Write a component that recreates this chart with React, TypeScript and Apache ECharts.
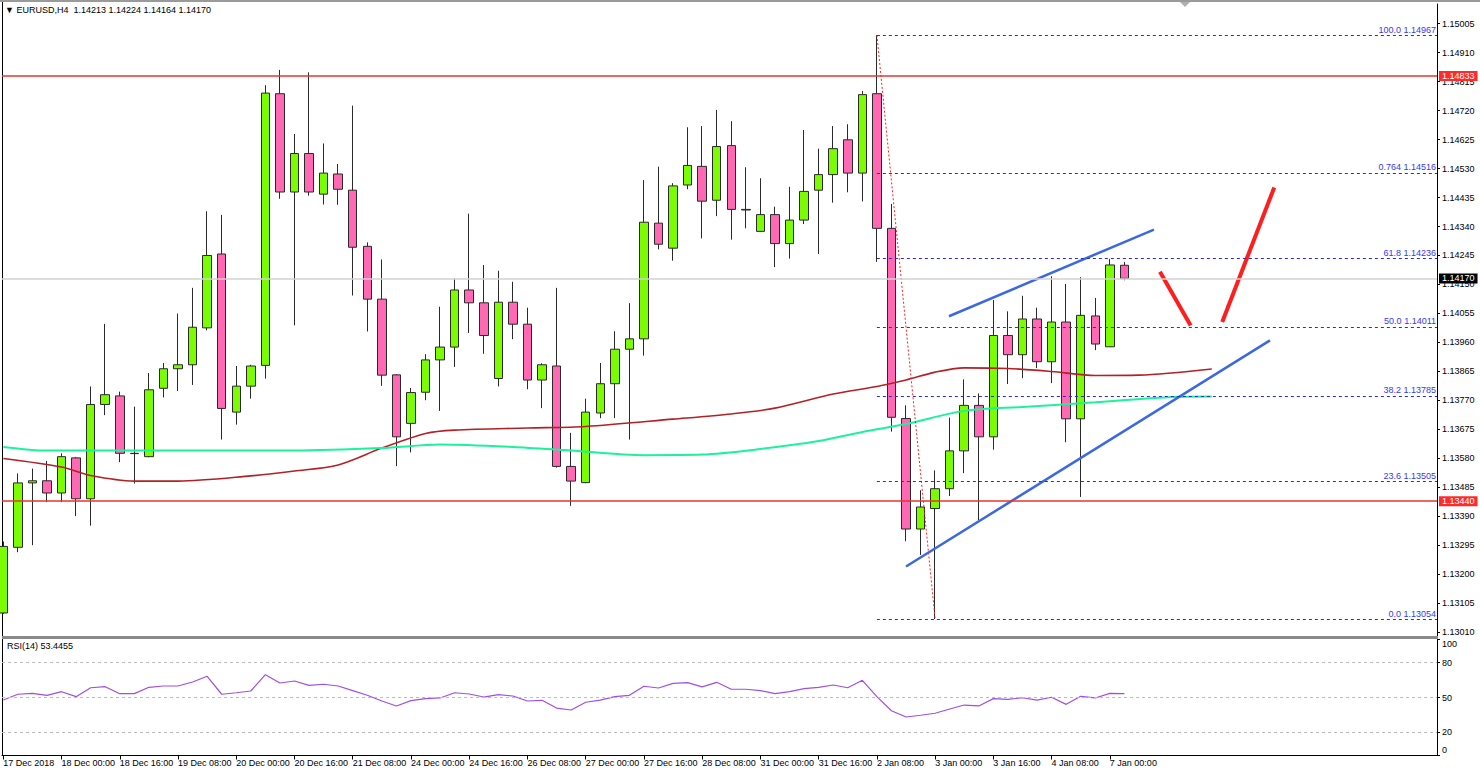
import React, { useEffect, useRef } from 'react';
import * as echarts from 'echarts';

const FONT = '"Liberation Sans", Arial, sans-serif';

// ---- data ----
const xLabels = ['17 Dec 2018', '18 Dec 00:00', '18 Dec 16:00', '19 Dec 08:00', '20 Dec 00:00', '20 Dec 16:00', '21 Dec 08:00', '24 Dec 00:00', '24 Dec 16:00', '26 Dec 08:00', '27 Dec 00:00', '27 Dec 16:00', '28 Dec 08:00', '31 Dec 00:00', '31 Dec 16:00', '2 Jan 08:00', '3 Jan 00:00', '3 Jan 16:00', '4 Jan 08:00', '7 Jan 00:00'];
const barsPerLabel = 4;

const opens = [1.13074, 1.13289, 1.13500, 1.13507, 1.13467, 1.13582, 1.13448, 1.13757, 1.13785, 1.13597, 1.13586, 1.13810, 1.13874, 1.13887, 1.14008, 1.14250, 1.13732, 1.13817, 1.13885, 1.14775, 1.14453, 1.14579, 1.14446, 1.14512, 1.14459, 1.14275, 1.14102, 1.13854, 1.13695, 1.13797, 1.13903, 1.13945, 1.14132, 1.14090, 1.13842, 1.14092, 1.14020, 1.13837, 1.13883, 1.13554, 1.13501, 1.13729, 1.13825, 1.13938, 1.13972, 1.14351, 1.14269, 1.14476, 1.14537, 1.14426, 1.14605, 1.14396, 1.14324, 1.14379, 1.14284, 1.14361, 1.14459, 1.14510, 1.14624, 1.14515, 1.14775, 1.14334, 1.13711, 1.13349, 1.13416, 1.13481, 1.13605, 1.13754, 1.13651, 1.13983, 1.13920, 1.14037, 1.13897, 1.14027, 1.13710, 1.14047, 1.13946, 1.14213];
const closes = [1.13292, 1.13500, 1.13507, 1.13467, 1.13586, 1.13448, 1.13757, 1.13789, 1.13597, 1.13596, 1.13805, 1.13874, 1.13887, 1.14010, 1.14245, 1.13744, 1.13817, 1.13883, 1.14777, 1.14453, 1.14579, 1.14453, 1.14515, 1.14462, 1.14272, 1.14102, 1.13853, 1.13651, 1.13796, 1.13903, 1.13945, 1.14132, 1.14090, 1.13983, 1.14092, 1.14020, 1.13837, 1.13887, 1.13554, 1.13506, 1.13732, 1.13825, 1.13938, 1.13972, 1.14354, 1.14282, 1.14473, 1.14540, 1.14423, 1.14602, 1.14396, 1.14394, 1.14379, 1.14284, 1.14361, 1.14455, 1.14510, 1.14595, 1.14515, 1.14772, 1.14334, 1.13715, 1.13349, 1.13421, 1.13481, 1.13605, 1.13754, 1.13651, 1.13983, 1.13920, 1.14037, 1.13897, 1.14027, 1.13710, 1.14049, 1.13955, 1.14214, 1.14170];
const lows = [1.13071, 1.13273, 1.13296, 1.13437, 1.13437, 1.13391, 1.13360, 1.13722, 1.13568, 1.13498, 1.13584, 1.13780, 1.13801, 1.13821, 1.14000, 1.13642, 1.13691, 1.13776, 1.13842, 1.14431, 1.14016, 1.14441, 1.14412, 1.14411, 1.14114, 1.13996, 1.13818, 1.13555, 1.13600, 1.13771, 1.13736, 1.13880, 1.13991, 1.13923, 1.13816, 1.13971, 1.13807, 1.13745, 1.13550, 1.13425, 1.13499, 1.13712, 1.13712, 1.13642, 1.13917, 1.14265, 1.14228, 1.14462, 1.14301, 1.14374, 1.14297, 1.14334, 1.14322, 1.14207, 1.14235, 1.14348, 1.14250, 1.14418, 1.14452, 1.14422, 1.14224, 1.13668, 1.13309, 1.13264, 1.13054, 1.13457, 1.13532, 1.13378, 1.13609, 1.13824, 1.13843, 1.13876, 1.13827, 1.13633, 1.13454, 1.13935, 1.13945, 1.14164];
const highs = [1.13308, 1.13531, 1.13547, 1.13572, 1.13597, 1.13585, 1.13816, 1.14021, 1.13799, 1.13750, 1.13860, 1.13893, 1.14055, 1.14139, 1.14390, 1.14378, 1.13883, 1.13887, 1.14803, 1.14853, 1.14643, 1.14845, 1.14612, 1.14545, 1.14736, 1.14288, 1.14232, 1.13856, 1.13811, 1.13922, 1.14077, 1.14170, 1.14382, 1.14214, 1.14195, 1.14159, 1.14074, 1.13892, 1.14139, 1.13664, 1.13776, 1.13893, 1.13997, 1.14089, 1.14492, 1.14536, 1.14482, 1.14665, 1.14669, 1.14722, 1.14685, 1.14534, 1.14498, 1.14405, 1.14470, 1.14656, 1.14595, 1.14669, 1.14675, 1.14784, 1.14967, 1.14414, 1.13754, 1.13476, 1.13541, 1.13714, 1.13839, 1.13793, 1.14099, 1.14062, 1.14113, 1.14074, 1.14177, 1.14152, 1.14174, 1.14106, 1.14234, 1.14224];

const priceTicks = [1.15005, 1.14910, 1.14815, 1.14720, 1.14625, 1.14530, 1.14435, 1.14340, 1.14245, 1.14150, 1.14055, 1.13960, 1.13865, 1.13770, 1.13675, 1.13580, 1.13485, 1.13390, 1.13295, 1.13200, 1.13105, 1.13010];

const maRedIdx = [0, 4, 6, 9, 12, 17, 20, 23, 26, 29, 31, 36, 40, 46, 50, 53, 57, 60, 62, 64, 66, 69, 72, 75, 78, 83];
const maRedVal = [1.13580, 1.13552, 1.13524, 1.13506, 1.13506, 1.13523, 1.13539, 1.13559, 1.13614, 1.13662, 1.13673, 1.13680, 1.13685, 1.13709, 1.13726, 1.13745, 1.13791, 1.13816, 1.13837, 1.13863, 1.13877, 1.13875, 1.13865, 1.13852, 1.13853, 1.13873];
const maGreenIdx = [0, 3, 11, 20, 26, 30, 35, 39, 44, 48, 52, 56, 59, 62, 66, 70, 75, 80, 83];
const maGreenVal = [1.13618, 1.13606, 1.13606, 1.13606, 1.13614, 1.13626, 1.13618, 1.13606, 1.13591, 1.13593, 1.13611, 1.13637, 1.13667, 1.13693, 1.13736, 1.13749, 1.13764, 1.13781, 1.13783];

const srLevels = [1.14833, 1.13440];
const bidPrice = 1.14170;

const fibNames = ['100.0', '0.764', '61.8', '50.0', '38.2', '23.6', '0.0'];
const fibPrices = [1.14967, 1.14516, 1.14236, 1.14011, 1.13785, 1.13505, 1.13054];
const fibStartBar = 60;

const fibTrend = [[60, 1.14967], [64, 1.13054]];
const channelUpper = [[64.95, 1.14046], [79.03, 1.14330]];
const channelLower = [[62.0, 1.13226], [87.0, 1.13967]];
const arrowDown = [[79.44, 1.14192], [81.55, 1.14016]];
const arrowUp = [[83.72, 1.14027], [87.29, 1.14468]];

const rsiValues = [47.8, 52.8, 53.6, 51.9, 55.0, 50.7, 58.4, 59.3, 53.3, 53.3, 58.8, 59.9, 59.9, 63.4, 68.3, 52.8, 54.1, 55.6, 69.7, 62.5, 64.2, 60.5, 61.4, 59.9, 55.9, 51.9, 47.0, 42.7, 47.3, 49.0, 49.6, 54.1, 53.0, 50.4, 52.4, 51.3, 47.0, 47.6, 40.9, 39.2, 45.9, 47.8, 50.7, 51.9, 59.7, 58.2, 62.2, 62.8, 59.1, 63.1, 57.1, 57.1, 55.9, 53.3, 55.0, 57.6, 58.8, 60.8, 58.4, 64.8, 50.7, 38.6, 33.2, 34.7, 36.4, 40.1, 43.5, 42.7, 49.0, 48.4, 49.8, 47.8, 50.2, 44.1, 51.0, 49.6, 53.6, 53.4];
const rsiTicks = [0, 20, 50, 80, 100];
const rsiLevels = [20, 50, 80];

// ---- axis ranges ----
const X_MIN = -0.09;
const X_MAX = 98.47;
const Y_MIN = 1.129985;
const Y_MAX = 1.150689;

function buildOption() {
  const candleData = opens.map((o, i) => [i, o, closes[i], lows[i], highs[i]]);
  const tickIdx = xLabels.map((_, k) => k * barsPerLabel);
  const txt = { fontFamily: FONT, fontSize: 9, color: '#000' };

  const priceBox = (v: number, bg: string) => ({
    show: true, position: 'end', formatter: v.toFixed(5), color: '#fff', backgroundColor: bg,
    padding: [1, 3, 0, 3], fontSize: 9, fontFamily: FONT, distance: 2,
  });

  const markData: any[] = [];
  srLevels.forEach((v) => {
    markData.push([
      { coord: [X_MIN, v], lineStyle: { color: '#e8342f', width: 1.6, type: 'solid' }, label: priceBox(v, '#ff2b2b') },
      { coord: [X_MAX, v] },
    ]);
  });
  markData.push([
    { coord: [X_MIN, bidPrice], lineStyle: { color: '#d2d2d2', width: 1.5, type: 'solid' }, label: priceBox(bidPrice, '#000') },
    { coord: [X_MAX, bidPrice] },
  ]);
  fibPrices.forEach((v, k) => {
    markData.push([
      {
        coord: [fibStartBar, v],
        lineStyle: { color: '#2b2bd0', width: 1, type: [3, 3] },
        label: { show: true, position: 'insideEndTop', formatter: fibNames[k] + ' ' + v.toFixed(5), color: '#3838f0', fontSize: 9, fontFamily: FONT, distance: 1 },
      },
      { coord: [X_MAX, v] },
    ]);
  });

  const seg = (data: number[][], color: string, width: number, type: any = 'solid', z = 4) => ({
    type: 'line', xAxisIndex: 0, yAxisIndex: 0, data, symbol: 'none', silent: true, z,
    lineStyle: { color, width, type }, animation: false,
  });

  return {
    animation: false,
    backgroundColor: '#ffffff',
    title: [
      { text: '▼ EURUSD,H4  1.14213 1.14224 1.14164 1.14170', left: 5, top: 5, padding: 0, textStyle: { ...txt, fontWeight: 'normal' } },
      { text: 'RSI(14) 53.4455', left: 7, top: 641, padding: 0, textStyle: { ...txt, fontWeight: 'normal' } },
    ],
    grid: [
      { left: 2, top: 4, width: 1435, height: 632, containLabel: false, outerBoundsMode: 'none' },
      { left: 2, top: 639.5, width: 1435, height: 116, containLabel: false, outerBoundsMode: 'none' },
    ],
    xAxis: [
      { type: 'value', gridIndex: 0, min: X_MIN, max: X_MAX, show: false, splitLine: { show: false } },
      {
        type: 'value', gridIndex: 1, min: X_MIN, max: X_MAX,
        axisLine: { show: true, onZero: false, lineStyle: { color: '#000', width: 1 } },
        axisTick: { show: true, customValues: tickIdx, length: 4, lineStyle: { color: '#000' } },
        axisLabel: { customValues: tickIdx, formatter: (v: number) => xLabels[Math.round(v / barsPerLabel)] || '', align: 'left', margin: 3, ...txt },
        splitLine: { show: false },
      },
    ],
    yAxis: [
      {
        type: 'value', gridIndex: 0, position: 'right', min: Y_MIN, max: Y_MAX,
        axisLine: { show: true, onZero: false, lineStyle: { color: '#000', width: 1 } },
        axisTick: { show: true, customValues: priceTicks, length: 3, lineStyle: { color: '#000' } },
        axisLabel: { customValues: priceTicks, formatter: (v: number) => v.toFixed(5), margin: 5, ...txt },
        splitLine: { show: false },
      },
      {
        type: 'value', gridIndex: 1, position: 'right', min: 0, max: 100,
        axisLine: { show: true, onZero: false, lineStyle: { color: '#000', width: 1 } },
        axisTick: { show: true, customValues: rsiTicks, length: 3, lineStyle: { color: '#000' } },
        axisLabel: {
          customValues: rsiTicks, margin: 5, ...txt,
          formatter: (v: number) => (v === 100 ? '{t|100}' : v === 0 ? '{b|0}' : String(v)),
          rich: {
            t: { padding: [9, 0, 0, 0], ...txt },
            b: { padding: [0, 0, 11, 0], ...txt },
          },
        },
        splitLine: { show: false },
      },
    ],
    series: [
      {
        type: 'candlestick', xAxisIndex: 0, yAxisIndex: 0, data: candleData, barWidth: 9, z: 2,
        itemStyle: { color: '#7CFC00', color0: '#FF69B4', borderColor: '#2a2a2a', borderColor0: '#2a2a2a', borderWidth: 1 },
        markLine: { silent: true, symbol: ['none', 'none'], animation: false, data: markData },
      },
      {
        type: 'line', xAxisIndex: 0, yAxisIndex: 0, data: maRedIdx.map((x, k) => [x, maRedVal[k]]),
        symbol: 'none', smooth: 0.3, silent: true, z: 3, lineStyle: { color: '#b32025', width: 1.6 },
      },
      {
        type: 'line', xAxisIndex: 0, yAxisIndex: 0, data: maGreenIdx.map((x, k) => [x, maGreenVal[k]]),
        symbol: 'none', smooth: 0.3, silent: true, z: 3, lineStyle: { color: '#1cf29c', width: 2 },
      },
      seg(fibTrend, '#ff2020', 1, [2, 2], 3),
      seg(channelUpper, '#3c68e0', 2.5),
      seg(channelLower, '#3c68e0', 2.5),
      seg(arrowDown, '#ff1e1e', 4),
      seg(arrowUp, '#ff1e1e', 4),
      {
        type: 'line', xAxisIndex: 1, yAxisIndex: 1, data: rsiValues.map((v, i) => [i, v]),
        symbol: 'none', silent: true, z: 3, lineStyle: { color: '#a04fe0', width: 1.2 },
        markLine: {
          silent: true, symbol: ['none', 'none'], animation: false, label: { show: false },
          lineStyle: { color: '#bdbdbd', width: 1, type: [3, 3] },
          data: rsiLevels.map((v) => [{ coord: [X_MIN, v] }, { coord: [X_MAX, v] }]),
        },
      },
    ],
    graphic: [
      { type: 'rect', shape: { x: 0, y: 0, width: 1480, height: 2 }, style: { fill: '#9a9a9a' }, silent: true },
      { type: 'polygon', shape: { points: [[1180, 2], [1190, 2], [1185, 7]] }, style: { fill: '#b0b0b0' }, silent: true },
      { type: 'line', shape: { x1: 2.5, y1: 2, x2: 2.5, y2: 756 }, style: { stroke: '#000', lineWidth: 1 }, silent: true },
      { type: 'rect', shape: { x: 2, y: 636, width: 1436, height: 3 }, style: { fill: '#8a8a8a' }, silent: true, z: 10 },
    ],
  };
}

export default function App() {
  const ref = useRef<HTMLDivElement>(null);
  useEffect(() => {
    document.body.style.margin = '0';
    const chart = echarts.init(ref.current as HTMLDivElement, null, { renderer: 'svg' });
    chart.setOption(buildOption() as any);
    return () => chart.dispose();
  }, []);
  return <div ref={ref} style={{ width: 1480, height: 772, background: '#fff' }} />;
}
